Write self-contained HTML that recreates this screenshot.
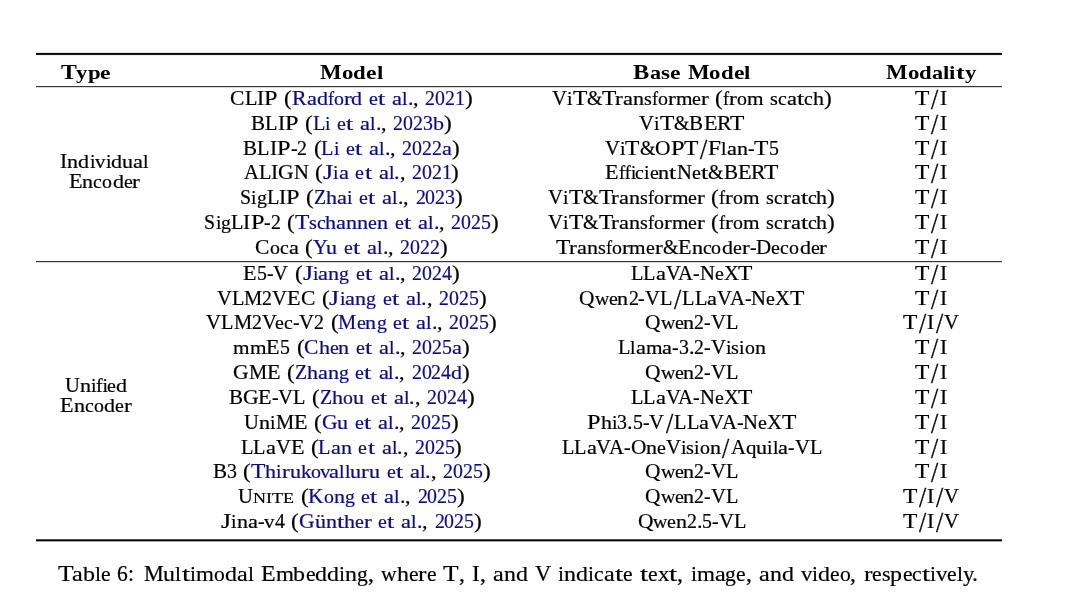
<!DOCTYPE html>
<html><head><meta charset="utf-8"><style>
html,body{margin:0;padding:0;background:#fff;}
body{width:1080px;height:593px;position:relative;overflow:hidden;will-change:transform;font-family:"Liberation Serif",serif;color:#000;}
i{position:absolute;font-style:normal;white-space:pre;font-size:20px;line-height:20px;transform-origin:0 0;-webkit-text-stroke:0.2px currentColor;}
.b{font-weight:bold;-webkit-text-stroke:0;}
.k{font-size:22.5px;line-height:22.5px;}
.c{color:#0c0c86;}
.sc{font-size:14.0px;line-height:14px;}
.rule{position:absolute;left:36px;width:966px;background:#000;}
</style></head><body>
<div class="rule" style="top:52px;height:1px;background:#e4e4e4"></div>
<div class="rule" style="top:53px;height:1px;background:#080808"></div>
<div class="rule" style="top:54px;height:1px;background:#181818"></div>
<div class="rule" style="top:55px;height:1px;background:#f0f0f0"></div>
<div class="rule" style="top:86px;height:1px;background:#383838"></div>
<div class="rule" style="top:87px;height:1px;background:#d8d8d8"></div>
<div class="rule" style="top:261px;height:1px;background:#383838"></div>
<div class="rule" style="top:262px;height:1px;background:#d8d8d8"></div>
<div class="rule" style="top:539px;height:1px;background:#555"></div>
<div class="rule" style="top:540px;height:1px;background:#000"></div>
<div class="rule" style="top:541px;height:1px;background:#a8a8a8"></div>
<i class="b" style="left:60.50px;top:62px;transform:scaleX(1.191)">T</i>
<i class="b" style="left:76.39px;top:62px;transform:translateY(0.85px) scaleX(1.141) scaleY(0.950)">y</i>
<i class="b" style="left:87.80px;top:62px;transform:translateY(0.85px) scaleX(1.141) scaleY(0.950)">p</i>
<i class="b" style="left:100.49px;top:62px;transform:translateY(0.85px) scaleX(1.181) scaleY(0.950)">e</i>
<i class="b" style="left:320.41px;top:62px;transform:scaleX(1.147)">M</i>
<i class="b" style="left:342.06px;top:62px;transform:translateY(0.85px) scaleX(1.142) scaleY(0.950)">o</i>
<i class="b" style="left:353.48px;top:62px;transform:translateY(0.85px) scaleX(1.141) scaleY(0.950)">d</i>
<i class="b" style="left:366.17px;top:62px;transform:translateY(0.85px) scaleX(1.181) scaleY(0.950)">e</i>
<i class="b" style="left:376.65px;top:62px;transform:translateY(0.85px) scaleX(1.142) scaleY(0.950)">l</i>
<i class="b" style="left:633.28px;top:62px;transform:scaleX(1.218)">B</i>
<i class="b" style="left:649.52px;top:62px;transform:translateY(0.85px) scaleX(1.111) scaleY(0.950)">a</i>
<i class="b" style="left:660.63px;top:62px;transform:translateY(0.85px) scaleX(1.157) scaleY(0.950)">s</i>
<i class="b" style="left:669.64px;top:62px;transform:translateY(0.85px) scaleX(1.181) scaleY(0.950)">e</i>
<i class="b" style="left:687.74px;top:62px;transform:scaleX(1.147)">M</i>
<i class="b" style="left:709.39px;top:62px;transform:translateY(0.85px) scaleX(1.142) scaleY(0.950)">o</i>
<i class="b" style="left:720.81px;top:62px;transform:translateY(0.85px) scaleX(1.141) scaleY(0.950)">d</i>
<i class="b" style="left:733.50px;top:62px;transform:translateY(0.85px) scaleX(1.181) scaleY(0.950)">e</i>
<i class="b" style="left:743.98px;top:62px;transform:translateY(0.85px) scaleX(1.142) scaleY(0.950)">l</i>
<i class="b" style="left:886.08px;top:62px;transform:scaleX(1.147)">M</i>
<i class="b" style="left:907.73px;top:62px;transform:translateY(0.85px) scaleX(1.142) scaleY(0.950)">o</i>
<i class="b" style="left:919.15px;top:62px;transform:translateY(0.85px) scaleX(1.141) scaleY(0.950)">d</i>
<i class="b" style="left:931.84px;top:62px;transform:translateY(0.85px) scaleX(1.111) scaleY(0.950)">a</i>
<i class="b" style="left:942.94px;top:62px;transform:translateY(0.85px) scaleX(1.142) scaleY(0.950)">l</i>
<i class="b" style="left:949.29px;top:62px;transform:translateY(0.85px) scaleX(1.142) scaleY(0.950)">i</i>
<i class="b" style="left:955.74px;top:62px;transform:translateY(0.85px) scaleX(1.300) scaleY(0.950)">t</i>
<i class="b" style="left:964.51px;top:62px;transform:translateY(0.85px) scaleX(1.141) scaleY(0.950)">y</i>
<i style="left:230.29px;top:88px;transform:scaleX(1.075)">C</i>
<i style="left:244.64px;top:88px;transform:scaleX(1.016)">L</i>
<i style="left:257.05px;top:88px;transform:scaleX(1.077)">I</i>
<i style="left:264.22px;top:88px;transform:scaleX(1.215)">P</i>
<i style="left:284.36px;top:88px;transform:scaleX(1.160)">(</i>
<i class="c" style="left:292.08px;top:88px;transform:scaleX(1.096)">R</i>
<i class="c" style="left:306.70px;top:88px;transform:translateY(0.85px) scaleX(1.119) scaleY(0.950)">a</i>
<i class="c" style="left:316.63px;top:88px;transform:translateY(0.85px) scaleX(1.103) scaleY(0.950)">d</i>
<i class="c" style="left:327.66px;top:88px;transform:translateY(0.85px) scaleX(0.911) scaleY(0.950)">f</i>
<i class="c" style="left:333.73px;top:88px;transform:translateY(0.85px) scaleX(0.993) scaleY(0.950)">o</i>
<i class="c" style="left:343.66px;top:88px;transform:translateY(0.85px) scaleX(1.168) scaleY(0.950)">r</i>
<i class="c" style="left:351.44px;top:88px;transform:translateY(0.85px) scaleX(1.103) scaleY(0.950)">d</i>
<i class="c" style="left:369.09px;top:88px;transform:translateY(0.85px) scaleX(0.994) scaleY(0.950)">e</i>
<i class="c" style="left:378.17px;top:88px;transform:translateY(0.85px) scaleX(1.300) scaleY(0.950)">t</i>
<i class="c" style="left:392.26px;top:88px;transform:translateY(0.85px) scaleX(1.119) scaleY(0.950)">a</i>
<i class="c" style="left:402.19px;top:88px;transform:translateY(0.85px) scaleX(0.993) scaleY(0.950)">l</i>
<i class="c" style="left:407.71px;top:88px;transform:scaleX(1.103)">.</i>
<i style="left:413.23px;top:88px;transform:scaleX(1.103)">,</i>
<i class="c" style="left:425.36px;top:88px;transform:scaleX(0.993)">2</i>
<i class="c" style="left:435.29px;top:88px;transform:scaleX(0.993)">0</i>
<i class="c" style="left:445.22px;top:88px;transform:scaleX(0.993)">2</i>
<i class="c" style="left:455.15px;top:88px;transform:scaleX(0.993)">1</i>
<i style="left:465.08px;top:88px;transform:scaleX(1.160)">)</i>
<i style="left:552.28px;top:88px;transform:scaleX(1.031)">V</i>
<i style="left:567.18px;top:88px;transform:translateY(0.85px) scaleX(0.993) scaleY(0.950)">i</i>
<i style="left:572.69px;top:88px;transform:scaleX(1.174)">T</i>
<i style="left:587.04px;top:88px;transform:scaleX(0.993)">&amp;</i>
<i style="left:602.49px;top:88px;transform:scaleX(1.174)">T</i>
<i style="left:615.17px;top:88px;transform:translateY(0.85px) scaleX(1.168) scaleY(0.950)">r</i>
<i style="left:622.95px;top:88px;transform:translateY(0.85px) scaleX(1.119) scaleY(0.950)">a</i>
<i style="left:632.88px;top:88px;transform:translateY(0.85px) scaleX(1.103) scaleY(0.950)">n</i>
<i style="left:643.92px;top:88px;transform:translateY(0.85px) scaleX(1.006) scaleY(0.950)">s</i>
<i style="left:651.75px;top:88px;transform:translateY(0.85px) scaleX(0.911) scaleY(0.950)">f</i>
<i style="left:657.82px;top:88px;transform:translateY(0.85px) scaleX(0.993) scaleY(0.950)">o</i>
<i style="left:667.75px;top:88px;transform:translateY(0.85px) scaleX(1.168) scaleY(0.950)">r</i>
<i style="left:675.53px;top:88px;transform:translateY(0.85px) scaleX(1.064) scaleY(0.950)">m</i>
<i style="left:692.08px;top:88px;transform:translateY(0.85px) scaleX(0.994) scaleY(0.950)">e</i>
<i style="left:700.90px;top:88px;transform:translateY(0.85px) scaleX(1.168) scaleY(0.950)">r</i>
<i style="left:715.30px;top:88px;transform:scaleX(1.160)">(</i>
<i style="left:723.02px;top:88px;transform:translateY(0.85px) scaleX(0.911) scaleY(0.950)">f</i>
<i style="left:729.09px;top:88px;transform:translateY(0.85px) scaleX(1.168) scaleY(0.950)">r</i>
<i style="left:736.87px;top:88px;transform:translateY(0.85px) scaleX(0.993) scaleY(0.950)">o</i>
<i style="left:746.80px;top:88px;transform:translateY(0.85px) scaleX(1.064) scaleY(0.950)">m</i>
<i style="left:769.97px;top:88px;transform:translateY(0.85px) scaleX(1.006) scaleY(0.950)">s</i>
<i style="left:777.81px;top:88px;transform:translateY(0.85px) scaleX(0.994) scaleY(0.950)">c</i>
<i style="left:786.63px;top:88px;transform:translateY(0.85px) scaleX(1.119) scaleY(0.950)">a</i>
<i style="left:796.81px;top:88px;transform:translateY(0.85px) scaleX(1.300) scaleY(0.950)">t</i>
<i style="left:804.29px;top:88px;transform:translateY(0.85px) scaleX(0.994) scaleY(0.950)">c</i>
<i style="left:812.56px;top:88px;transform:translateY(0.85px) scaleX(1.103) scaleY(0.950)">h</i>
<i style="left:823.59px;top:88px;transform:scaleX(1.160)">)</i>
<i style="left:915.28px;top:88px;transform:scaleX(1.174)">T</i>
<i style="left:930.97px;top:88px;transform:translateY(-3.73px) scaleX(1.300) scaleY(1.455)">/</i>
<i style="left:939.55px;top:88px;transform:scaleX(1.077)">I</i>
<i style="left:251.15px;top:113px;transform:scaleX(1.055)">B</i>
<i style="left:265.21px;top:113px;transform:scaleX(1.016)">L</i>
<i style="left:277.63px;top:113px;transform:scaleX(1.077)">I</i>
<i style="left:284.80px;top:113px;transform:scaleX(1.215)">P</i>
<i style="left:304.93px;top:113px;transform:scaleX(1.160)">(</i>
<i class="c" style="left:312.66px;top:113px;transform:scaleX(1.016)">L</i>
<i class="c" style="left:325.07px;top:113px;transform:translateY(0.85px) scaleX(0.993) scaleY(0.950)">i</i>
<i class="c" style="left:337.21px;top:113px;transform:translateY(0.85px) scaleX(0.994) scaleY(0.950)">e</i>
<i class="c" style="left:346.28px;top:113px;transform:translateY(0.85px) scaleX(1.300) scaleY(0.950)">t</i>
<i class="c" style="left:360.38px;top:113px;transform:translateY(0.85px) scaleX(1.119) scaleY(0.950)">a</i>
<i class="c" style="left:370.31px;top:113px;transform:translateY(0.85px) scaleX(0.993) scaleY(0.950)">l</i>
<i class="c" style="left:375.82px;top:113px;transform:scaleX(1.103)">.</i>
<i style="left:381.34px;top:113px;transform:scaleX(1.103)">,</i>
<i class="c" style="left:393.48px;top:113px;transform:scaleX(0.993)">2</i>
<i class="c" style="left:403.41px;top:113px;transform:scaleX(0.993)">0</i>
<i class="c" style="left:413.34px;top:113px;transform:scaleX(0.993)">2</i>
<i class="c" style="left:423.27px;top:113px;transform:scaleX(0.993)">3</i>
<i class="c" style="left:433.20px;top:113px;transform:translateY(0.85px) scaleX(1.103) scaleY(0.950)">b</i>
<i style="left:444.23px;top:113px;transform:scaleX(1.160)">)</i>
<i style="left:639.25px;top:113px;transform:scaleX(1.031)">V</i>
<i style="left:654.15px;top:113px;transform:translateY(0.85px) scaleX(0.993) scaleY(0.950)">i</i>
<i style="left:659.67px;top:113px;transform:scaleX(1.174)">T</i>
<i style="left:674.01px;top:113px;transform:scaleX(0.993)">&amp;</i>
<i style="left:689.46px;top:113px;transform:scaleX(1.055)">B</i>
<i style="left:703.52px;top:113px;transform:scaleX(1.106)">E</i>
<i style="left:717.04px;top:113px;transform:scaleX(1.096)">R</i>
<i style="left:730.00px;top:113px;transform:scaleX(1.174)">T</i>
<i style="left:915.28px;top:113px;transform:scaleX(1.174)">T</i>
<i style="left:930.97px;top:113px;transform:translateY(-3.73px) scaleX(1.300) scaleY(1.455)">/</i>
<i style="left:939.55px;top:113px;transform:scaleX(1.077)">I</i>
<i style="left:243.42px;top:138px;transform:scaleX(1.055)">B</i>
<i style="left:257.49px;top:138px;transform:scaleX(1.016)">L</i>
<i style="left:269.90px;top:138px;transform:scaleX(1.077)">I</i>
<i style="left:277.07px;top:138px;transform:scaleX(1.215)">P</i>
<i style="left:290.59px;top:138px;transform:scaleX(0.994)">-</i>
<i style="left:297.21px;top:138px;transform:scaleX(0.993)">2</i>
<i style="left:313.76px;top:138px;transform:scaleX(1.160)">(</i>
<i class="c" style="left:321.48px;top:138px;transform:scaleX(1.016)">L</i>
<i class="c" style="left:333.90px;top:138px;transform:translateY(0.85px) scaleX(0.993) scaleY(0.950)">i</i>
<i class="c" style="left:346.03px;top:138px;transform:translateY(0.85px) scaleX(0.994) scaleY(0.950)">e</i>
<i class="c" style="left:355.11px;top:138px;transform:translateY(0.85px) scaleX(1.300) scaleY(0.950)">t</i>
<i class="c" style="left:369.20px;top:138px;transform:translateY(0.85px) scaleX(1.119) scaleY(0.950)">a</i>
<i class="c" style="left:379.13px;top:138px;transform:translateY(0.85px) scaleX(0.993) scaleY(0.950)">l</i>
<i class="c" style="left:384.65px;top:138px;transform:scaleX(1.103)">.</i>
<i style="left:390.17px;top:138px;transform:scaleX(1.103)">,</i>
<i class="c" style="left:402.30px;top:138px;transform:scaleX(0.993)">2</i>
<i class="c" style="left:412.23px;top:138px;transform:scaleX(0.993)">0</i>
<i class="c" style="left:422.16px;top:138px;transform:scaleX(0.993)">2</i>
<i class="c" style="left:432.09px;top:138px;transform:scaleX(0.993)">2</i>
<i class="c" style="left:442.02px;top:138px;transform:translateY(0.85px) scaleX(1.119) scaleY(0.950)">a</i>
<i style="left:451.95px;top:138px;transform:scaleX(1.160)">)</i>
<i style="left:604.91px;top:138px;transform:scaleX(1.031)">V</i>
<i style="left:619.81px;top:138px;transform:translateY(0.85px) scaleX(0.993) scaleY(0.950)">i</i>
<i style="left:625.32px;top:138px;transform:scaleX(1.174)">T</i>
<i style="left:639.67px;top:138px;transform:scaleX(0.993)">&amp;</i>
<i style="left:655.11px;top:138px;transform:scaleX(1.069)">O</i>
<i style="left:670.56px;top:138px;transform:scaleX(1.215)">P</i>
<i style="left:684.08px;top:138px;transform:scaleX(1.174)">T</i>
<i style="left:699.77px;top:138px;transform:translateY(-3.73px) scaleX(1.300) scaleY(1.455)">/</i>
<i style="left:708.35px;top:138px;transform:scaleX(1.166)">F</i>
<i style="left:721.31px;top:138px;transform:translateY(0.85px) scaleX(0.993) scaleY(0.950)">l</i>
<i style="left:726.83px;top:138px;transform:translateY(0.85px) scaleX(1.119) scaleY(0.950)">a</i>
<i style="left:736.76px;top:138px;transform:translateY(0.85px) scaleX(1.103) scaleY(0.950)">n</i>
<i style="left:747.79px;top:138px;transform:scaleX(0.994)">-</i>
<i style="left:754.41px;top:138px;transform:scaleX(1.174)">T</i>
<i style="left:768.76px;top:138px;transform:scaleX(0.993)">5</i>
<i style="left:915.28px;top:138px;transform:scaleX(1.174)">T</i>
<i style="left:930.97px;top:138px;transform:translateY(-3.73px) scaleX(1.300) scaleY(1.455)">/</i>
<i style="left:939.55px;top:138px;transform:scaleX(1.077)">I</i>
<i style="left:243.91px;top:162px;transform:scaleX(1.031)">A</i>
<i style="left:258.80px;top:162px;transform:scaleX(1.016)">L</i>
<i style="left:271.21px;top:162px;transform:scaleX(1.077)">I</i>
<i style="left:278.39px;top:162px;transform:scaleX(1.079)">G</i>
<i style="left:293.97px;top:162px;transform:scaleX(1.031)">N</i>
<i style="left:315.48px;top:162px;transform:scaleX(1.160)">(</i>
<i class="c" style="left:323.25px;top:162px;transform:scaleX(1.300)">J</i>
<i class="c" style="left:333.41px;top:162px;transform:translateY(0.85px) scaleX(0.993) scaleY(0.950)">i</i>
<i class="c" style="left:338.93px;top:162px;transform:translateY(0.85px) scaleX(1.119) scaleY(0.950)">a</i>
<i class="c" style="left:355.48px;top:162px;transform:translateY(0.85px) scaleX(0.994) scaleY(0.950)">e</i>
<i class="c" style="left:364.56px;top:162px;transform:translateY(0.85px) scaleX(1.300) scaleY(0.950)">t</i>
<i class="c" style="left:378.65px;top:162px;transform:translateY(0.85px) scaleX(1.119) scaleY(0.950)">a</i>
<i class="c" style="left:388.58px;top:162px;transform:translateY(0.85px) scaleX(0.993) scaleY(0.950)">l</i>
<i class="c" style="left:394.10px;top:162px;transform:scaleX(1.103)">.</i>
<i style="left:399.61px;top:162px;transform:scaleX(1.103)">,</i>
<i class="c" style="left:411.75px;top:162px;transform:scaleX(0.993)">2</i>
<i class="c" style="left:421.68px;top:162px;transform:scaleX(0.993)">0</i>
<i class="c" style="left:431.61px;top:162px;transform:scaleX(0.993)">2</i>
<i class="c" style="left:441.54px;top:162px;transform:scaleX(0.993)">1</i>
<i style="left:451.47px;top:162px;transform:scaleX(1.160)">)</i>
<i style="left:605.19px;top:162px;transform:scaleX(1.106)">E</i>
<i style="left:618.70px;top:162px;transform:translateY(0.85px) scaleX(0.931) scaleY(0.950)">ffi</i>
<i style="left:635.25px;top:162px;transform:translateY(0.85px) scaleX(0.994) scaleY(0.950)">c</i>
<i style="left:644.08px;top:162px;transform:translateY(0.85px) scaleX(0.993) scaleY(0.950)">i</i>
<i style="left:649.60px;top:162px;transform:translateY(0.85px) scaleX(0.994) scaleY(0.950)">e</i>
<i style="left:658.42px;top:162px;transform:translateY(0.85px) scaleX(1.103) scaleY(0.950)">n</i>
<i style="left:669.16px;top:162px;transform:translateY(0.85px) scaleX(1.300) scaleY(0.950)">t</i>
<i style="left:676.63px;top:162px;transform:scaleX(1.031)">N</i>
<i style="left:691.52px;top:162px;transform:translateY(0.85px) scaleX(0.994) scaleY(0.950)">e</i>
<i style="left:700.60px;top:162px;transform:translateY(0.85px) scaleX(1.300) scaleY(0.950)">t</i>
<i style="left:708.07px;top:162px;transform:scaleX(0.993)">&amp;</i>
<i style="left:723.52px;top:162px;transform:scaleX(1.055)">B</i>
<i style="left:737.59px;top:162px;transform:scaleX(1.106)">E</i>
<i style="left:751.10px;top:162px;transform:scaleX(1.096)">R</i>
<i style="left:764.07px;top:162px;transform:scaleX(1.174)">T</i>
<i style="left:915.28px;top:162px;transform:scaleX(1.174)">T</i>
<i style="left:930.97px;top:162px;transform:translateY(-3.73px) scaleX(1.300) scaleY(1.455)">/</i>
<i style="left:939.55px;top:162px;transform:scaleX(1.077)">I</i>
<i style="left:240.11px;top:187px;transform:scaleX(0.992)">S</i>
<i style="left:251.15px;top:187px;transform:translateY(0.85px) scaleX(0.993) scaleY(0.950)">i</i>
<i style="left:256.66px;top:187px;transform:translateY(0.85px) scaleX(0.993) scaleY(0.950)">g</i>
<i style="left:266.59px;top:187px;transform:scaleX(1.016)">L</i>
<i style="left:279.01px;top:187px;transform:scaleX(1.077)">I</i>
<i style="left:286.18px;top:187px;transform:scaleX(1.215)">P</i>
<i style="left:306.31px;top:187px;transform:scaleX(1.160)">(</i>
<i class="c" style="left:314.04px;top:187px;transform:scaleX(0.993)">Z</i>
<i class="c" style="left:326.17px;top:187px;transform:translateY(0.85px) scaleX(1.103) scaleY(0.950)">h</i>
<i class="c" style="left:337.21px;top:187px;transform:translateY(0.85px) scaleX(1.119) scaleY(0.950)">a</i>
<i class="c" style="left:347.14px;top:187px;transform:translateY(0.85px) scaleX(0.993) scaleY(0.950)">i</i>
<i class="c" style="left:359.27px;top:187px;transform:translateY(0.85px) scaleX(0.994) scaleY(0.950)">e</i>
<i class="c" style="left:368.35px;top:187px;transform:translateY(0.85px) scaleX(1.300) scaleY(0.950)">t</i>
<i class="c" style="left:382.44px;top:187px;transform:translateY(0.85px) scaleX(1.119) scaleY(0.950)">a</i>
<i class="c" style="left:392.37px;top:187px;transform:translateY(0.85px) scaleX(0.993) scaleY(0.950)">l</i>
<i class="c" style="left:397.89px;top:187px;transform:scaleX(1.103)">.</i>
<i style="left:403.41px;top:187px;transform:scaleX(1.103)">,</i>
<i class="c" style="left:415.54px;top:187px;transform:scaleX(0.993)">2</i>
<i class="c" style="left:425.47px;top:187px;transform:scaleX(0.993)">0</i>
<i class="c" style="left:435.40px;top:187px;transform:scaleX(0.993)">2</i>
<i class="c" style="left:445.33px;top:187px;transform:scaleX(0.993)">3</i>
<i style="left:455.26px;top:187px;transform:scaleX(1.160)">)</i>
<i style="left:548.39px;top:187px;transform:scaleX(1.031)">V</i>
<i style="left:563.29px;top:187px;transform:translateY(0.85px) scaleX(0.993) scaleY(0.950)">i</i>
<i style="left:568.81px;top:187px;transform:scaleX(1.174)">T</i>
<i style="left:583.15px;top:187px;transform:scaleX(0.993)">&amp;</i>
<i style="left:598.60px;top:187px;transform:scaleX(1.174)">T</i>
<i style="left:611.28px;top:187px;transform:translateY(0.85px) scaleX(1.168) scaleY(0.950)">r</i>
<i style="left:619.06px;top:187px;transform:translateY(0.85px) scaleX(1.119) scaleY(0.950)">a</i>
<i style="left:628.99px;top:187px;transform:translateY(0.85px) scaleX(1.103) scaleY(0.950)">n</i>
<i style="left:640.03px;top:187px;transform:translateY(0.85px) scaleX(1.006) scaleY(0.950)">s</i>
<i style="left:647.86px;top:187px;transform:translateY(0.85px) scaleX(0.911) scaleY(0.950)">f</i>
<i style="left:653.93px;top:187px;transform:translateY(0.85px) scaleX(0.993) scaleY(0.950)">o</i>
<i style="left:663.86px;top:187px;transform:translateY(0.85px) scaleX(1.168) scaleY(0.950)">r</i>
<i style="left:671.64px;top:187px;transform:translateY(0.85px) scaleX(1.064) scaleY(0.950)">m</i>
<i style="left:688.19px;top:187px;transform:translateY(0.85px) scaleX(0.994) scaleY(0.950)">e</i>
<i style="left:697.01px;top:187px;transform:translateY(0.85px) scaleX(1.168) scaleY(0.950)">r</i>
<i style="left:711.41px;top:187px;transform:scaleX(1.160)">(</i>
<i style="left:719.14px;top:187px;transform:translateY(0.85px) scaleX(0.911) scaleY(0.950)">f</i>
<i style="left:725.20px;top:187px;transform:translateY(0.85px) scaleX(1.168) scaleY(0.950)">r</i>
<i style="left:732.98px;top:187px;transform:translateY(0.85px) scaleX(0.993) scaleY(0.950)">o</i>
<i style="left:742.91px;top:187px;transform:translateY(0.85px) scaleX(1.064) scaleY(0.950)">m</i>
<i style="left:766.08px;top:187px;transform:translateY(0.85px) scaleX(1.006) scaleY(0.950)">s</i>
<i style="left:773.92px;top:187px;transform:translateY(0.85px) scaleX(0.994) scaleY(0.950)">c</i>
<i style="left:782.74px;top:187px;transform:translateY(0.85px) scaleX(1.168) scaleY(0.950)">r</i>
<i style="left:790.52px;top:187px;transform:translateY(0.85px) scaleX(1.119) scaleY(0.950)">a</i>
<i style="left:800.70px;top:187px;transform:translateY(0.85px) scaleX(1.300) scaleY(0.950)">t</i>
<i style="left:808.17px;top:187px;transform:translateY(0.85px) scaleX(0.994) scaleY(0.950)">c</i>
<i style="left:816.45px;top:187px;transform:translateY(0.85px) scaleX(1.103) scaleY(0.950)">h</i>
<i style="left:827.48px;top:187px;transform:scaleX(1.160)">)</i>
<i style="left:915.28px;top:187px;transform:scaleX(1.174)">T</i>
<i style="left:930.97px;top:187px;transform:translateY(-3.73px) scaleX(1.300) scaleY(1.455)">/</i>
<i style="left:939.55px;top:187px;transform:scaleX(1.077)">I</i>
<i style="left:204.48px;top:212px;transform:scaleX(0.992)">S</i>
<i style="left:215.51px;top:212px;transform:translateY(0.85px) scaleX(0.993) scaleY(0.950)">i</i>
<i style="left:221.03px;top:212px;transform:translateY(0.85px) scaleX(0.993) scaleY(0.950)">g</i>
<i style="left:230.96px;top:212px;transform:scaleX(1.016)">L</i>
<i style="left:243.37px;top:212px;transform:scaleX(1.077)">I</i>
<i style="left:250.54px;top:212px;transform:scaleX(1.215)">P</i>
<i style="left:264.06px;top:212px;transform:scaleX(0.994)">-</i>
<i style="left:270.68px;top:212px;transform:scaleX(0.993)">2</i>
<i style="left:287.23px;top:212px;transform:scaleX(1.160)">(</i>
<i class="c" style="left:294.95px;top:212px;transform:scaleX(1.174)">T</i>
<i class="c" style="left:309.29px;top:212px;transform:translateY(0.85px) scaleX(1.006) scaleY(0.950)">s</i>
<i class="c" style="left:317.13px;top:212px;transform:translateY(0.85px) scaleX(0.994) scaleY(0.950)">c</i>
<i class="c" style="left:325.40px;top:212px;transform:translateY(0.85px) scaleX(1.103) scaleY(0.950)">h</i>
<i class="c" style="left:336.43px;top:212px;transform:translateY(0.85px) scaleX(1.119) scaleY(0.950)">a</i>
<i class="c" style="left:346.36px;top:212px;transform:translateY(0.85px) scaleX(1.103) scaleY(0.950)">n</i>
<i class="c" style="left:357.40px;top:212px;transform:translateY(0.85px) scaleX(1.103) scaleY(0.950)">n</i>
<i class="c" style="left:368.43px;top:212px;transform:translateY(0.85px) scaleX(0.994) scaleY(0.950)">e</i>
<i class="c" style="left:377.26px;top:212px;transform:translateY(0.85px) scaleX(1.103) scaleY(0.950)">n</i>
<i class="c" style="left:394.91px;top:212px;transform:translateY(0.85px) scaleX(0.994) scaleY(0.950)">e</i>
<i class="c" style="left:403.99px;top:212px;transform:translateY(0.85px) scaleX(1.300) scaleY(0.950)">t</i>
<i class="c" style="left:418.08px;top:212px;transform:translateY(0.85px) scaleX(1.119) scaleY(0.950)">a</i>
<i class="c" style="left:428.01px;top:212px;transform:translateY(0.85px) scaleX(0.993) scaleY(0.950)">l</i>
<i class="c" style="left:433.53px;top:212px;transform:scaleX(1.103)">.</i>
<i style="left:439.04px;top:212px;transform:scaleX(1.103)">,</i>
<i class="c" style="left:451.18px;top:212px;transform:scaleX(0.993)">2</i>
<i class="c" style="left:461.11px;top:212px;transform:scaleX(0.993)">0</i>
<i class="c" style="left:471.04px;top:212px;transform:scaleX(0.993)">2</i>
<i class="c" style="left:480.97px;top:212px;transform:scaleX(0.993)">5</i>
<i style="left:490.90px;top:212px;transform:scaleX(1.160)">)</i>
<i style="left:548.39px;top:212px;transform:scaleX(1.031)">V</i>
<i style="left:563.29px;top:212px;transform:translateY(0.85px) scaleX(0.993) scaleY(0.950)">i</i>
<i style="left:568.81px;top:212px;transform:scaleX(1.174)">T</i>
<i style="left:583.15px;top:212px;transform:scaleX(0.993)">&amp;</i>
<i style="left:598.60px;top:212px;transform:scaleX(1.174)">T</i>
<i style="left:611.28px;top:212px;transform:translateY(0.85px) scaleX(1.168) scaleY(0.950)">r</i>
<i style="left:619.06px;top:212px;transform:translateY(0.85px) scaleX(1.119) scaleY(0.950)">a</i>
<i style="left:628.99px;top:212px;transform:translateY(0.85px) scaleX(1.103) scaleY(0.950)">n</i>
<i style="left:640.03px;top:212px;transform:translateY(0.85px) scaleX(1.006) scaleY(0.950)">s</i>
<i style="left:647.86px;top:212px;transform:translateY(0.85px) scaleX(0.911) scaleY(0.950)">f</i>
<i style="left:653.93px;top:212px;transform:translateY(0.85px) scaleX(0.993) scaleY(0.950)">o</i>
<i style="left:663.86px;top:212px;transform:translateY(0.85px) scaleX(1.168) scaleY(0.950)">r</i>
<i style="left:671.64px;top:212px;transform:translateY(0.85px) scaleX(1.064) scaleY(0.950)">m</i>
<i style="left:688.19px;top:212px;transform:translateY(0.85px) scaleX(0.994) scaleY(0.950)">e</i>
<i style="left:697.01px;top:212px;transform:translateY(0.85px) scaleX(1.168) scaleY(0.950)">r</i>
<i style="left:711.41px;top:212px;transform:scaleX(1.160)">(</i>
<i style="left:719.14px;top:212px;transform:translateY(0.85px) scaleX(0.911) scaleY(0.950)">f</i>
<i style="left:725.20px;top:212px;transform:translateY(0.85px) scaleX(1.168) scaleY(0.950)">r</i>
<i style="left:732.98px;top:212px;transform:translateY(0.85px) scaleX(0.993) scaleY(0.950)">o</i>
<i style="left:742.91px;top:212px;transform:translateY(0.85px) scaleX(1.064) scaleY(0.950)">m</i>
<i style="left:766.08px;top:212px;transform:translateY(0.85px) scaleX(1.006) scaleY(0.950)">s</i>
<i style="left:773.92px;top:212px;transform:translateY(0.85px) scaleX(0.994) scaleY(0.950)">c</i>
<i style="left:782.74px;top:212px;transform:translateY(0.85px) scaleX(1.168) scaleY(0.950)">r</i>
<i style="left:790.52px;top:212px;transform:translateY(0.85px) scaleX(1.119) scaleY(0.950)">a</i>
<i style="left:800.70px;top:212px;transform:translateY(0.85px) scaleX(1.300) scaleY(0.950)">t</i>
<i style="left:808.17px;top:212px;transform:translateY(0.85px) scaleX(0.994) scaleY(0.950)">c</i>
<i style="left:816.45px;top:212px;transform:translateY(0.85px) scaleX(1.103) scaleY(0.950)">h</i>
<i style="left:827.48px;top:212px;transform:scaleX(1.160)">)</i>
<i style="left:915.28px;top:212px;transform:scaleX(1.174)">T</i>
<i style="left:930.97px;top:212px;transform:translateY(-3.73px) scaleX(1.300) scaleY(1.455)">/</i>
<i style="left:939.55px;top:212px;transform:scaleX(1.077)">I</i>
<i style="left:255.28px;top:237px;transform:scaleX(1.075)">C</i>
<i style="left:269.63px;top:237px;transform:translateY(0.85px) scaleX(0.993) scaleY(0.950)">o</i>
<i style="left:280.11px;top:237px;transform:translateY(0.85px) scaleX(0.994) scaleY(0.950)">c</i>
<i style="left:288.94px;top:237px;transform:translateY(0.85px) scaleX(1.119) scaleY(0.950)">a</i>
<i style="left:305.49px;top:237px;transform:scaleX(1.160)">(</i>
<i class="c" style="left:313.21px;top:237px;transform:scaleX(1.031)">Y</i>
<i class="c" style="left:326.45px;top:237px;transform:translateY(0.85px) scaleX(1.103) scaleY(0.950)">u</i>
<i class="c" style="left:344.10px;top:237px;transform:translateY(0.85px) scaleX(0.994) scaleY(0.950)">e</i>
<i class="c" style="left:353.18px;top:237px;transform:translateY(0.85px) scaleX(1.300) scaleY(0.950)">t</i>
<i class="c" style="left:367.27px;top:237px;transform:translateY(0.85px) scaleX(1.119) scaleY(0.950)">a</i>
<i class="c" style="left:377.20px;top:237px;transform:translateY(0.85px) scaleX(0.993) scaleY(0.950)">l</i>
<i class="c" style="left:382.72px;top:237px;transform:scaleX(1.103)">.</i>
<i style="left:388.24px;top:237px;transform:scaleX(1.103)">,</i>
<i class="c" style="left:400.37px;top:237px;transform:scaleX(0.993)">2</i>
<i class="c" style="left:410.30px;top:237px;transform:scaleX(0.993)">0</i>
<i class="c" style="left:420.23px;top:237px;transform:scaleX(0.993)">2</i>
<i class="c" style="left:430.16px;top:237px;transform:scaleX(0.993)">2</i>
<i style="left:440.09px;top:237px;transform:scaleX(1.160)">)</i>
<i style="left:556.45px;top:237px;transform:scaleX(1.174)">T</i>
<i style="left:569.14px;top:237px;transform:translateY(0.85px) scaleX(1.168) scaleY(0.950)">r</i>
<i style="left:576.91px;top:237px;transform:translateY(0.85px) scaleX(1.119) scaleY(0.950)">a</i>
<i style="left:586.85px;top:237px;transform:translateY(0.85px) scaleX(1.103) scaleY(0.950)">n</i>
<i style="left:597.88px;top:237px;transform:translateY(0.85px) scaleX(1.006) scaleY(0.950)">s</i>
<i style="left:605.71px;top:237px;transform:translateY(0.85px) scaleX(0.911) scaleY(0.950)">f</i>
<i style="left:611.78px;top:237px;transform:translateY(0.85px) scaleX(0.993) scaleY(0.950)">o</i>
<i style="left:621.71px;top:237px;transform:translateY(0.85px) scaleX(1.168) scaleY(0.950)">r</i>
<i style="left:629.49px;top:237px;transform:translateY(0.85px) scaleX(1.064) scaleY(0.950)">m</i>
<i style="left:646.04px;top:237px;transform:translateY(0.85px) scaleX(0.994) scaleY(0.950)">e</i>
<i style="left:654.87px;top:237px;transform:translateY(0.85px) scaleX(1.168) scaleY(0.950)">r</i>
<i style="left:662.64px;top:237px;transform:scaleX(0.993)">&amp;</i>
<i style="left:678.09px;top:237px;transform:scaleX(1.106)">E</i>
<i style="left:691.61px;top:237px;transform:translateY(0.85px) scaleX(1.103) scaleY(0.950)">n</i>
<i style="left:702.64px;top:237px;transform:translateY(0.85px) scaleX(0.994) scaleY(0.950)">c</i>
<i style="left:711.47px;top:237px;transform:translateY(0.85px) scaleX(0.993) scaleY(0.950)">o</i>
<i style="left:721.95px;top:237px;transform:translateY(0.85px) scaleX(1.103) scaleY(0.950)">d</i>
<i style="left:732.98px;top:237px;transform:translateY(0.85px) scaleX(0.994) scaleY(0.950)">e</i>
<i style="left:741.81px;top:237px;transform:translateY(0.85px) scaleX(1.168) scaleY(0.950)">r</i>
<i style="left:749.59px;top:237px;transform:scaleX(0.994)">-</i>
<i style="left:756.21px;top:237px;transform:scaleX(1.050)">D</i>
<i style="left:771.38px;top:237px;transform:translateY(0.85px) scaleX(0.994) scaleY(0.950)">e</i>
<i style="left:780.20px;top:237px;transform:translateY(0.85px) scaleX(0.994) scaleY(0.950)">c</i>
<i style="left:789.03px;top:237px;transform:translateY(0.85px) scaleX(0.993) scaleY(0.950)">o</i>
<i style="left:799.51px;top:237px;transform:translateY(0.85px) scaleX(1.103) scaleY(0.950)">d</i>
<i style="left:810.55px;top:237px;transform:translateY(0.85px) scaleX(0.994) scaleY(0.950)">e</i>
<i style="left:819.37px;top:237px;transform:translateY(0.85px) scaleX(1.168) scaleY(0.950)">r</i>
<i style="left:915.28px;top:237px;transform:scaleX(1.174)">T</i>
<i style="left:930.97px;top:237px;transform:translateY(-3.73px) scaleX(1.300) scaleY(1.455)">/</i>
<i style="left:939.55px;top:237px;transform:scaleX(1.077)">I</i>
<i style="left:243.42px;top:263px;transform:scaleX(1.106)">E</i>
<i style="left:256.94px;top:263px;transform:scaleX(0.993)">5</i>
<i style="left:266.87px;top:263px;transform:scaleX(0.994)">-</i>
<i style="left:273.49px;top:263px;transform:scaleX(1.031)">V</i>
<i style="left:295.00px;top:263px;transform:scaleX(1.160)">(</i>
<i class="c" style="left:302.77px;top:263px;transform:scaleX(1.300)">J</i>
<i class="c" style="left:312.93px;top:263px;transform:translateY(0.85px) scaleX(0.993) scaleY(0.950)">i</i>
<i class="c" style="left:318.45px;top:263px;transform:translateY(0.85px) scaleX(1.119) scaleY(0.950)">a</i>
<i class="c" style="left:328.38px;top:263px;transform:translateY(0.85px) scaleX(1.103) scaleY(0.950)">n</i>
<i class="c" style="left:339.41px;top:263px;transform:translateY(0.85px) scaleX(0.993) scaleY(0.950)">g</i>
<i class="c" style="left:355.96px;top:263px;transform:translateY(0.85px) scaleX(0.994) scaleY(0.950)">e</i>
<i class="c" style="left:365.04px;top:263px;transform:translateY(0.85px) scaleX(1.300) scaleY(0.950)">t</i>
<i class="c" style="left:379.13px;top:263px;transform:translateY(0.85px) scaleX(1.119) scaleY(0.950)">a</i>
<i class="c" style="left:389.06px;top:263px;transform:translateY(0.85px) scaleX(0.993) scaleY(0.950)">l</i>
<i class="c" style="left:394.58px;top:263px;transform:scaleX(1.103)">.</i>
<i style="left:400.10px;top:263px;transform:scaleX(1.103)">,</i>
<i class="c" style="left:412.23px;top:263px;transform:scaleX(0.993)">2</i>
<i class="c" style="left:422.16px;top:263px;transform:scaleX(0.993)">0</i>
<i class="c" style="left:432.09px;top:263px;transform:scaleX(0.993)">2</i>
<i class="c" style="left:442.02px;top:263px;transform:scaleX(0.993)">4</i>
<i style="left:451.95px;top:263px;transform:scaleX(1.160)">)</i>
<i style="left:630.84px;top:263px;transform:scaleX(1.016)">L</i>
<i style="left:643.25px;top:263px;transform:scaleX(1.016)">L</i>
<i style="left:655.67px;top:263px;transform:translateY(0.85px) scaleX(1.119) scaleY(0.950)">a</i>
<i style="left:665.60px;top:263px;transform:scaleX(1.031)">V</i>
<i style="left:678.28px;top:263px;transform:scaleX(1.031)">A</i>
<i style="left:693.18px;top:263px;transform:scaleX(0.994)">-</i>
<i style="left:699.80px;top:263px;transform:scaleX(1.031)">N</i>
<i style="left:714.69px;top:263px;transform:translateY(0.85px) scaleX(0.994) scaleY(0.950)">e</i>
<i style="left:723.52px;top:263px;transform:scaleX(1.031)">X</i>
<i style="left:738.42px;top:263px;transform:scaleX(1.174)">T</i>
<i style="left:915.28px;top:263px;transform:scaleX(1.174)">T</i>
<i style="left:930.97px;top:263px;transform:translateY(-3.73px) scaleX(1.300) scaleY(1.455)">/</i>
<i style="left:939.55px;top:263px;transform:scaleX(1.077)">I</i>
<i style="left:216.81px;top:288px;transform:scaleX(1.031)">V</i>
<i style="left:231.70px;top:288px;transform:scaleX(1.016)">L</i>
<i style="left:244.11px;top:288px;transform:scaleX(1.024)">M</i>
<i style="left:262.32px;top:288px;transform:scaleX(0.993)">2</i>
<i style="left:272.25px;top:288px;transform:scaleX(1.031)">V</i>
<i style="left:287.14px;top:288px;transform:scaleX(1.106)">E</i>
<i style="left:300.66px;top:288px;transform:scaleX(1.075)">C</i>
<i style="left:321.62px;top:288px;transform:scaleX(1.160)">(</i>
<i class="c" style="left:329.39px;top:288px;transform:scaleX(1.300)">J</i>
<i class="c" style="left:339.55px;top:288px;transform:translateY(0.85px) scaleX(0.993) scaleY(0.950)">i</i>
<i class="c" style="left:345.07px;top:288px;transform:translateY(0.85px) scaleX(1.119) scaleY(0.950)">a</i>
<i class="c" style="left:355.00px;top:288px;transform:translateY(0.85px) scaleX(1.103) scaleY(0.950)">n</i>
<i class="c" style="left:366.03px;top:288px;transform:translateY(0.85px) scaleX(0.993) scaleY(0.950)">g</i>
<i class="c" style="left:382.58px;top:288px;transform:translateY(0.85px) scaleX(0.994) scaleY(0.950)">e</i>
<i class="c" style="left:391.66px;top:288px;transform:translateY(0.85px) scaleX(1.300) scaleY(0.950)">t</i>
<i class="c" style="left:405.75px;top:288px;transform:translateY(0.85px) scaleX(1.119) scaleY(0.950)">a</i>
<i class="c" style="left:415.68px;top:288px;transform:translateY(0.85px) scaleX(0.993) scaleY(0.950)">l</i>
<i class="c" style="left:421.20px;top:288px;transform:scaleX(1.103)">.</i>
<i style="left:426.71px;top:288px;transform:scaleX(1.103)">,</i>
<i class="c" style="left:438.85px;top:288px;transform:scaleX(0.993)">2</i>
<i class="c" style="left:448.78px;top:288px;transform:scaleX(0.993)">0</i>
<i class="c" style="left:458.71px;top:288px;transform:scaleX(0.993)">2</i>
<i class="c" style="left:468.64px;top:288px;transform:scaleX(0.993)">5</i>
<i style="left:478.57px;top:288px;transform:scaleX(1.160)">)</i>
<i style="left:579.40px;top:288px;transform:scaleX(1.069)">Q</i>
<i style="left:594.84px;top:288px;transform:translateY(0.85px) scaleX(0.993) scaleY(0.950)">w</i>
<i style="left:608.64px;top:288px;transform:translateY(0.85px) scaleX(0.994) scaleY(0.950)">e</i>
<i style="left:617.46px;top:288px;transform:translateY(0.85px) scaleX(1.103) scaleY(0.950)">n</i>
<i style="left:628.50px;top:288px;transform:scaleX(0.993)">2</i>
<i style="left:638.43px;top:288px;transform:scaleX(0.994)">-</i>
<i style="left:645.05px;top:288px;transform:scaleX(1.031)">V</i>
<i style="left:659.94px;top:288px;transform:scaleX(1.016)">L</i>
<i style="left:673.71px;top:288px;transform:translateY(-3.73px) scaleX(1.300) scaleY(1.455)">/</i>
<i style="left:682.28px;top:288px;transform:scaleX(1.016)">L</i>
<i style="left:694.70px;top:288px;transform:scaleX(1.016)">L</i>
<i style="left:707.11px;top:288px;transform:translateY(0.85px) scaleX(1.119) scaleY(0.950)">a</i>
<i style="left:717.04px;top:288px;transform:scaleX(1.031)">V</i>
<i style="left:729.73px;top:288px;transform:scaleX(1.031)">A</i>
<i style="left:744.62px;top:288px;transform:scaleX(0.994)">-</i>
<i style="left:751.24px;top:288px;transform:scaleX(1.031)">N</i>
<i style="left:766.14px;top:288px;transform:translateY(0.85px) scaleX(0.994) scaleY(0.950)">e</i>
<i style="left:774.96px;top:288px;transform:scaleX(1.031)">X</i>
<i style="left:789.86px;top:288px;transform:scaleX(1.174)">T</i>
<i style="left:915.28px;top:288px;transform:scaleX(1.174)">T</i>
<i style="left:930.97px;top:288px;transform:translateY(-3.73px) scaleX(1.300) scaleY(1.455)">/</i>
<i style="left:939.55px;top:288px;transform:scaleX(1.077)">I</i>
<i style="left:206.32px;top:312px;transform:scaleX(1.031)">V</i>
<i style="left:221.22px;top:312px;transform:scaleX(1.016)">L</i>
<i style="left:233.63px;top:312px;transform:scaleX(1.024)">M</i>
<i style="left:251.84px;top:312px;transform:scaleX(0.993)">2</i>
<i style="left:261.77px;top:312px;transform:scaleX(1.031)">V</i>
<i style="left:275.01px;top:312px;transform:translateY(0.85px) scaleX(0.994) scaleY(0.950)">e</i>
<i style="left:283.83px;top:312px;transform:translateY(0.85px) scaleX(0.994) scaleY(0.950)">c</i>
<i style="left:292.66px;top:312px;transform:scaleX(0.994)">-</i>
<i style="left:299.28px;top:312px;transform:scaleX(1.031)">V</i>
<i style="left:314.17px;top:312px;transform:scaleX(0.993)">2</i>
<i style="left:330.72px;top:312px;transform:scaleX(1.160)">(</i>
<i class="c" style="left:338.45px;top:312px;transform:scaleX(1.024)">M</i>
<i class="c" style="left:356.65px;top:312px;transform:translateY(0.85px) scaleX(0.994) scaleY(0.950)">e</i>
<i class="c" style="left:365.48px;top:312px;transform:translateY(0.85px) scaleX(1.103) scaleY(0.950)">n</i>
<i class="c" style="left:376.51px;top:312px;transform:translateY(0.85px) scaleX(0.993) scaleY(0.950)">g</i>
<i class="c" style="left:393.06px;top:312px;transform:translateY(0.85px) scaleX(0.994) scaleY(0.950)">e</i>
<i class="c" style="left:402.14px;top:312px;transform:translateY(0.85px) scaleX(1.300) scaleY(0.950)">t</i>
<i class="c" style="left:416.23px;top:312px;transform:translateY(0.85px) scaleX(1.119) scaleY(0.950)">a</i>
<i class="c" style="left:426.16px;top:312px;transform:translateY(0.85px) scaleX(0.993) scaleY(0.950)">l</i>
<i class="c" style="left:431.68px;top:312px;transform:scaleX(1.103)">.</i>
<i style="left:437.20px;top:312px;transform:scaleX(1.103)">,</i>
<i class="c" style="left:449.33px;top:312px;transform:scaleX(0.993)">2</i>
<i class="c" style="left:459.26px;top:312px;transform:scaleX(0.993)">0</i>
<i class="c" style="left:469.19px;top:312px;transform:scaleX(0.993)">2</i>
<i class="c" style="left:479.12px;top:312px;transform:scaleX(0.993)">5</i>
<i style="left:489.05px;top:312px;transform:scaleX(1.160)">)</i>
<i style="left:645.32px;top:312px;transform:scaleX(1.069)">Q</i>
<i style="left:660.77px;top:312px;transform:translateY(0.85px) scaleX(0.993) scaleY(0.950)">w</i>
<i style="left:674.56px;top:312px;transform:translateY(0.85px) scaleX(0.994) scaleY(0.950)">e</i>
<i style="left:683.39px;top:312px;transform:translateY(0.85px) scaleX(1.103) scaleY(0.950)">n</i>
<i style="left:694.42px;top:312px;transform:scaleX(0.993)">2</i>
<i style="left:704.35px;top:312px;transform:scaleX(0.994)">-</i>
<i style="left:710.97px;top:312px;transform:scaleX(1.031)">V</i>
<i style="left:725.87px;top:312px;transform:scaleX(1.016)">L</i>
<i style="left:902.86px;top:312px;transform:scaleX(1.174)">T</i>
<i style="left:918.56px;top:312px;transform:translateY(-3.73px) scaleX(1.300) scaleY(1.455)">/</i>
<i style="left:927.14px;top:312px;transform:scaleX(1.077)">I</i>
<i style="left:935.66px;top:312px;transform:translateY(-3.73px) scaleX(1.300) scaleY(1.455)">/</i>
<i style="left:944.24px;top:312px;transform:scaleX(1.031)">V</i>
<i style="left:233.36px;top:337px;transform:translateY(0.85px) scaleX(1.064) scaleY(0.950)">m</i>
<i style="left:249.91px;top:337px;transform:translateY(0.85px) scaleX(1.064) scaleY(0.950)">m</i>
<i style="left:266.46px;top:337px;transform:scaleX(1.106)">E</i>
<i style="left:279.97px;top:337px;transform:scaleX(0.993)">5</i>
<i style="left:296.52px;top:337px;transform:scaleX(1.160)">(</i>
<i class="c" style="left:304.24px;top:337px;transform:scaleX(1.075)">C</i>
<i class="c" style="left:318.59px;top:337px;transform:translateY(0.85px) scaleX(1.103) scaleY(0.950)">h</i>
<i class="c" style="left:329.62px;top:337px;transform:translateY(0.85px) scaleX(0.994) scaleY(0.950)">e</i>
<i class="c" style="left:338.45px;top:337px;transform:translateY(0.85px) scaleX(1.103) scaleY(0.950)">n</i>
<i class="c" style="left:356.10px;top:337px;transform:translateY(0.85px) scaleX(0.994) scaleY(0.950)">e</i>
<i class="c" style="left:365.18px;top:337px;transform:translateY(0.85px) scaleX(1.300) scaleY(0.950)">t</i>
<i class="c" style="left:379.27px;top:337px;transform:translateY(0.85px) scaleX(1.119) scaleY(0.950)">a</i>
<i class="c" style="left:389.20px;top:337px;transform:translateY(0.85px) scaleX(0.993) scaleY(0.950)">l</i>
<i class="c" style="left:394.72px;top:337px;transform:scaleX(1.103)">.</i>
<i style="left:400.23px;top:337px;transform:scaleX(1.103)">,</i>
<i class="c" style="left:412.37px;top:337px;transform:scaleX(0.993)">2</i>
<i class="c" style="left:422.30px;top:337px;transform:scaleX(0.993)">0</i>
<i class="c" style="left:432.23px;top:337px;transform:scaleX(0.993)">2</i>
<i class="c" style="left:442.16px;top:337px;transform:scaleX(0.993)">5</i>
<i class="c" style="left:452.09px;top:337px;transform:translateY(0.85px) scaleX(1.119) scaleY(0.950)">a</i>
<i style="left:462.02px;top:337px;transform:scaleX(1.160)">)</i>
<i style="left:617.96px;top:337px;transform:scaleX(1.016)">L</i>
<i style="left:630.37px;top:337px;transform:translateY(0.85px) scaleX(0.993) scaleY(0.950)">l</i>
<i style="left:635.89px;top:337px;transform:translateY(0.85px) scaleX(1.119) scaleY(0.950)">a</i>
<i style="left:645.82px;top:337px;transform:translateY(0.85px) scaleX(1.064) scaleY(0.950)">m</i>
<i style="left:662.37px;top:337px;transform:translateY(0.85px) scaleX(1.119) scaleY(0.950)">a</i>
<i style="left:672.30px;top:337px;transform:scaleX(0.994)">-</i>
<i style="left:678.92px;top:337px;transform:scaleX(0.993)">3</i>
<i style="left:688.85px;top:337px;transform:scaleX(1.103)">.</i>
<i style="left:694.37px;top:337px;transform:scaleX(0.993)">2</i>
<i style="left:704.30px;top:337px;transform:scaleX(0.994)">-</i>
<i style="left:710.92px;top:337px;transform:scaleX(1.031)">V</i>
<i style="left:725.81px;top:337px;transform:translateY(0.85px) scaleX(0.993) scaleY(0.950)">i</i>
<i style="left:731.33px;top:337px;transform:translateY(0.85px) scaleX(1.006) scaleY(0.950)">s</i>
<i style="left:739.16px;top:337px;transform:translateY(0.85px) scaleX(0.993) scaleY(0.950)">i</i>
<i style="left:744.68px;top:337px;transform:translateY(0.85px) scaleX(0.993) scaleY(0.950)">o</i>
<i style="left:754.61px;top:337px;transform:translateY(0.85px) scaleX(1.103) scaleY(0.950)">n</i>
<i style="left:915.28px;top:337px;transform:scaleX(1.174)">T</i>
<i style="left:930.97px;top:337px;transform:translateY(-3.73px) scaleX(1.300) scaleY(1.455)">/</i>
<i style="left:939.55px;top:337px;transform:scaleX(1.077)">I</i>
<i style="left:233.01px;top:362px;transform:scaleX(1.079)">G</i>
<i style="left:248.59px;top:362px;transform:scaleX(1.024)">M</i>
<i style="left:266.80px;top:362px;transform:scaleX(1.106)">E</i>
<i style="left:286.94px;top:362px;transform:scaleX(1.160)">(</i>
<i class="c" style="left:294.66px;top:362px;transform:scaleX(0.993)">Z</i>
<i class="c" style="left:306.80px;top:362px;transform:translateY(0.85px) scaleX(1.103) scaleY(0.950)">h</i>
<i class="c" style="left:317.83px;top:362px;transform:translateY(0.85px) scaleX(1.119) scaleY(0.950)">a</i>
<i class="c" style="left:327.76px;top:362px;transform:translateY(0.85px) scaleX(1.103) scaleY(0.950)">n</i>
<i class="c" style="left:338.79px;top:362px;transform:translateY(0.85px) scaleX(0.993) scaleY(0.950)">g</i>
<i class="c" style="left:355.34px;top:362px;transform:translateY(0.85px) scaleX(0.994) scaleY(0.950)">e</i>
<i class="c" style="left:364.42px;top:362px;transform:translateY(0.85px) scaleX(1.300) scaleY(0.950)">t</i>
<i class="c" style="left:378.51px;top:362px;transform:translateY(0.85px) scaleX(1.119) scaleY(0.950)">a</i>
<i class="c" style="left:388.44px;top:362px;transform:translateY(0.85px) scaleX(0.993) scaleY(0.950)">l</i>
<i class="c" style="left:393.96px;top:362px;transform:scaleX(1.103)">.</i>
<i style="left:399.48px;top:362px;transform:scaleX(1.103)">,</i>
<i class="c" style="left:411.61px;top:362px;transform:scaleX(0.993)">2</i>
<i class="c" style="left:421.54px;top:362px;transform:scaleX(0.993)">0</i>
<i class="c" style="left:431.47px;top:362px;transform:scaleX(0.993)">2</i>
<i class="c" style="left:441.40px;top:362px;transform:scaleX(0.993)">4</i>
<i class="c" style="left:451.33px;top:362px;transform:translateY(0.85px) scaleX(1.103) scaleY(0.950)">d</i>
<i style="left:462.37px;top:362px;transform:scaleX(1.160)">)</i>
<i style="left:645.32px;top:362px;transform:scaleX(1.069)">Q</i>
<i style="left:660.77px;top:362px;transform:translateY(0.85px) scaleX(0.993) scaleY(0.950)">w</i>
<i style="left:674.56px;top:362px;transform:translateY(0.85px) scaleX(0.994) scaleY(0.950)">e</i>
<i style="left:683.39px;top:362px;transform:translateY(0.85px) scaleX(1.103) scaleY(0.950)">n</i>
<i style="left:694.42px;top:362px;transform:scaleX(0.993)">2</i>
<i style="left:704.35px;top:362px;transform:scaleX(0.994)">-</i>
<i style="left:710.97px;top:362px;transform:scaleX(1.031)">V</i>
<i style="left:725.87px;top:362px;transform:scaleX(1.016)">L</i>
<i style="left:915.28px;top:362px;transform:scaleX(1.174)">T</i>
<i style="left:930.97px;top:362px;transform:translateY(-3.73px) scaleX(1.300) scaleY(1.455)">/</i>
<i style="left:939.55px;top:362px;transform:scaleX(1.077)">I</i>
<i style="left:228.60px;top:387px;transform:scaleX(1.055)">B</i>
<i style="left:242.66px;top:387px;transform:scaleX(1.079)">G</i>
<i style="left:258.25px;top:387px;transform:scaleX(1.106)">E</i>
<i style="left:271.77px;top:387px;transform:scaleX(0.994)">-</i>
<i style="left:278.39px;top:387px;transform:scaleX(1.031)">V</i>
<i style="left:293.28px;top:387px;transform:scaleX(1.016)">L</i>
<i style="left:312.31px;top:387px;transform:scaleX(1.160)">(</i>
<i class="c" style="left:320.04px;top:387px;transform:scaleX(0.993)">Z</i>
<i class="c" style="left:332.17px;top:387px;transform:translateY(0.85px) scaleX(1.103) scaleY(0.950)">h</i>
<i class="c" style="left:343.21px;top:387px;transform:translateY(0.85px) scaleX(0.993) scaleY(0.950)">o</i>
<i class="c" style="left:353.14px;top:387px;transform:translateY(0.85px) scaleX(1.103) scaleY(0.950)">u</i>
<i class="c" style="left:370.79px;top:387px;transform:translateY(0.85px) scaleX(0.994) scaleY(0.950)">e</i>
<i class="c" style="left:379.87px;top:387px;transform:translateY(0.85px) scaleX(1.300) scaleY(0.950)">t</i>
<i class="c" style="left:393.96px;top:387px;transform:translateY(0.85px) scaleX(1.119) scaleY(0.950)">a</i>
<i class="c" style="left:403.89px;top:387px;transform:translateY(0.85px) scaleX(0.993) scaleY(0.950)">l</i>
<i class="c" style="left:409.41px;top:387px;transform:scaleX(1.103)">.</i>
<i style="left:414.92px;top:387px;transform:scaleX(1.103)">,</i>
<i class="c" style="left:427.06px;top:387px;transform:scaleX(0.993)">2</i>
<i class="c" style="left:436.99px;top:387px;transform:scaleX(0.993)">0</i>
<i class="c" style="left:446.92px;top:387px;transform:scaleX(0.993)">2</i>
<i class="c" style="left:456.85px;top:387px;transform:scaleX(0.993)">4</i>
<i style="left:466.78px;top:387px;transform:scaleX(1.160)">)</i>
<i style="left:630.84px;top:387px;transform:scaleX(1.016)">L</i>
<i style="left:643.25px;top:387px;transform:scaleX(1.016)">L</i>
<i style="left:655.67px;top:387px;transform:translateY(0.85px) scaleX(1.119) scaleY(0.950)">a</i>
<i style="left:665.60px;top:387px;transform:scaleX(1.031)">V</i>
<i style="left:678.28px;top:387px;transform:scaleX(1.031)">A</i>
<i style="left:693.18px;top:387px;transform:scaleX(0.994)">-</i>
<i style="left:699.80px;top:387px;transform:scaleX(1.031)">N</i>
<i style="left:714.69px;top:387px;transform:translateY(0.85px) scaleX(0.994) scaleY(0.950)">e</i>
<i style="left:723.52px;top:387px;transform:scaleX(1.031)">X</i>
<i style="left:738.42px;top:387px;transform:scaleX(1.174)">T</i>
<i style="left:915.28px;top:387px;transform:scaleX(1.174)">T</i>
<i style="left:930.97px;top:387px;transform:translateY(-3.73px) scaleX(1.300) scaleY(1.455)">/</i>
<i style="left:939.55px;top:387px;transform:scaleX(1.077)">I</i>
<i style="left:244.32px;top:412px;transform:scaleX(1.031)">U</i>
<i style="left:259.21px;top:412px;transform:translateY(0.85px) scaleX(1.103) scaleY(0.950)">n</i>
<i style="left:270.25px;top:412px;transform:translateY(0.85px) scaleX(0.993) scaleY(0.950)">i</i>
<i style="left:275.76px;top:412px;transform:scaleX(1.024)">M</i>
<i style="left:293.97px;top:412px;transform:scaleX(1.106)">E</i>
<i style="left:314.11px;top:412px;transform:scaleX(1.160)">(</i>
<i class="c" style="left:321.83px;top:412px;transform:scaleX(1.079)">G</i>
<i class="c" style="left:337.41px;top:412px;transform:translateY(0.85px) scaleX(1.103) scaleY(0.950)">u</i>
<i class="c" style="left:355.07px;top:412px;transform:translateY(0.85px) scaleX(0.994) scaleY(0.950)">e</i>
<i class="c" style="left:364.14px;top:412px;transform:translateY(0.85px) scaleX(1.300) scaleY(0.950)">t</i>
<i class="c" style="left:378.24px;top:412px;transform:translateY(0.85px) scaleX(1.119) scaleY(0.950)">a</i>
<i class="c" style="left:388.17px;top:412px;transform:translateY(0.85px) scaleX(0.993) scaleY(0.950)">l</i>
<i class="c" style="left:393.68px;top:412px;transform:scaleX(1.103)">.</i>
<i style="left:399.20px;top:412px;transform:scaleX(1.103)">,</i>
<i class="c" style="left:411.34px;top:412px;transform:scaleX(0.993)">2</i>
<i class="c" style="left:421.27px;top:412px;transform:scaleX(0.993)">0</i>
<i class="c" style="left:431.20px;top:412px;transform:scaleX(0.993)">2</i>
<i class="c" style="left:441.13px;top:412px;transform:scaleX(0.993)">5</i>
<i style="left:451.06px;top:412px;transform:scaleX(1.160)">)</i>
<i style="left:587.40px;top:412px;transform:scaleX(1.215)">P</i>
<i style="left:600.91px;top:412px;transform:translateY(0.85px) scaleX(1.103) scaleY(0.950)">h</i>
<i style="left:611.95px;top:412px;transform:translateY(0.85px) scaleX(0.993) scaleY(0.950)">i</i>
<i style="left:617.46px;top:412px;transform:scaleX(0.993)">3</i>
<i style="left:627.39px;top:412px;transform:scaleX(1.103)">.</i>
<i style="left:632.91px;top:412px;transform:scaleX(0.993)">5</i>
<i style="left:642.84px;top:412px;transform:scaleX(0.994)">-</i>
<i style="left:649.46px;top:412px;transform:scaleX(1.031)">V</i>
<i style="left:665.71px;top:412px;transform:translateY(-3.73px) scaleX(1.300) scaleY(1.455)">/</i>
<i style="left:674.28px;top:412px;transform:scaleX(1.016)">L</i>
<i style="left:686.70px;top:412px;transform:scaleX(1.016)">L</i>
<i style="left:699.11px;top:412px;transform:translateY(0.85px) scaleX(1.119) scaleY(0.950)">a</i>
<i style="left:709.04px;top:412px;transform:scaleX(1.031)">V</i>
<i style="left:721.73px;top:412px;transform:scaleX(1.031)">A</i>
<i style="left:736.62px;top:412px;transform:scaleX(0.994)">-</i>
<i style="left:743.24px;top:412px;transform:scaleX(1.031)">N</i>
<i style="left:758.14px;top:412px;transform:translateY(0.85px) scaleX(0.994) scaleY(0.950)">e</i>
<i style="left:766.96px;top:412px;transform:scaleX(1.031)">X</i>
<i style="left:781.86px;top:412px;transform:scaleX(1.174)">T</i>
<i style="left:915.28px;top:412px;transform:scaleX(1.174)">T</i>
<i style="left:930.97px;top:412px;transform:translateY(-3.73px) scaleX(1.300) scaleY(1.455)">/</i>
<i style="left:939.55px;top:412px;transform:scaleX(1.077)">I</i>
<i style="left:240.94px;top:437px;transform:scaleX(1.016)">L</i>
<i style="left:253.35px;top:437px;transform:scaleX(1.016)">L</i>
<i style="left:265.77px;top:437px;transform:translateY(0.85px) scaleX(1.119) scaleY(0.950)">a</i>
<i style="left:275.70px;top:437px;transform:scaleX(1.031)">V</i>
<i style="left:290.59px;top:437px;transform:scaleX(1.106)">E</i>
<i style="left:310.73px;top:437px;transform:scaleX(1.160)">(</i>
<i class="c" style="left:318.45px;top:437px;transform:scaleX(1.016)">L</i>
<i class="c" style="left:330.86px;top:437px;transform:translateY(0.85px) scaleX(1.119) scaleY(0.950)">a</i>
<i class="c" style="left:340.79px;top:437px;transform:translateY(0.85px) scaleX(1.103) scaleY(0.950)">n</i>
<i class="c" style="left:358.45px;top:437px;transform:translateY(0.85px) scaleX(0.994) scaleY(0.950)">e</i>
<i class="c" style="left:367.52px;top:437px;transform:translateY(0.85px) scaleX(1.300) scaleY(0.950)">t</i>
<i class="c" style="left:381.62px;top:437px;transform:translateY(0.85px) scaleX(1.119) scaleY(0.950)">a</i>
<i class="c" style="left:391.55px;top:437px;transform:translateY(0.85px) scaleX(0.993) scaleY(0.950)">l</i>
<i class="c" style="left:397.06px;top:437px;transform:scaleX(1.103)">.</i>
<i style="left:402.58px;top:437px;transform:scaleX(1.103)">,</i>
<i class="c" style="left:414.72px;top:437px;transform:scaleX(0.993)">2</i>
<i class="c" style="left:424.65px;top:437px;transform:scaleX(0.993)">0</i>
<i class="c" style="left:434.58px;top:437px;transform:scaleX(0.993)">2</i>
<i class="c" style="left:444.51px;top:437px;transform:scaleX(0.993)">5</i>
<i style="left:454.44px;top:437px;transform:scaleX(1.160)">)</i>
<i style="left:561.69px;top:437px;transform:scaleX(1.016)">L</i>
<i style="left:574.10px;top:437px;transform:scaleX(1.016)">L</i>
<i style="left:586.51px;top:437px;transform:translateY(0.85px) scaleX(1.119) scaleY(0.950)">a</i>
<i style="left:596.44px;top:437px;transform:scaleX(1.031)">V</i>
<i style="left:609.13px;top:437px;transform:scaleX(1.031)">A</i>
<i style="left:624.03px;top:437px;transform:scaleX(0.994)">-</i>
<i style="left:630.65px;top:437px;transform:scaleX(1.069)">O</i>
<i style="left:646.09px;top:437px;transform:translateY(0.85px) scaleX(1.103) scaleY(0.950)">n</i>
<i style="left:657.13px;top:437px;transform:translateY(0.85px) scaleX(0.994) scaleY(0.950)">e</i>
<i style="left:665.95px;top:437px;transform:scaleX(1.031)">V</i>
<i style="left:680.85px;top:437px;transform:translateY(0.85px) scaleX(0.993) scaleY(0.950)">i</i>
<i style="left:686.37px;top:437px;transform:translateY(0.85px) scaleX(1.006) scaleY(0.950)">s</i>
<i style="left:694.20px;top:437px;transform:translateY(0.85px) scaleX(0.993) scaleY(0.950)">i</i>
<i style="left:699.72px;top:437px;transform:translateY(0.85px) scaleX(0.993) scaleY(0.950)">o</i>
<i style="left:709.65px;top:437px;transform:translateY(0.85px) scaleX(1.103) scaleY(0.950)">n</i>
<i style="left:722.03px;top:437px;transform:translateY(-3.73px) scaleX(1.300) scaleY(1.455)">/</i>
<i style="left:730.61px;top:437px;transform:scaleX(1.031)">A</i>
<i style="left:745.50px;top:437px;transform:translateY(0.85px) scaleX(1.048) scaleY(0.950)">q</i>
<i style="left:755.99px;top:437px;transform:translateY(0.85px) scaleX(1.103) scaleY(0.950)">u</i>
<i style="left:767.02px;top:437px;transform:translateY(0.85px) scaleX(0.993) scaleY(0.950)">i</i>
<i style="left:772.54px;top:437px;transform:translateY(0.85px) scaleX(0.993) scaleY(0.950)">l</i>
<i style="left:778.05px;top:437px;transform:translateY(0.85px) scaleX(1.119) scaleY(0.950)">a</i>
<i style="left:787.98px;top:437px;transform:scaleX(0.994)">-</i>
<i style="left:794.60px;top:437px;transform:scaleX(1.031)">V</i>
<i style="left:809.50px;top:437px;transform:scaleX(1.016)">L</i>
<i style="left:915.28px;top:437px;transform:scaleX(1.174)">T</i>
<i style="left:930.97px;top:437px;transform:translateY(-3.73px) scaleX(1.300) scaleY(1.455)">/</i>
<i style="left:939.55px;top:437px;transform:scaleX(1.077)">I</i>
<i style="left:212.61px;top:461px;transform:scaleX(1.055)">B</i>
<i style="left:226.68px;top:461px;transform:scaleX(0.993)">3</i>
<i style="left:243.23px;top:461px;transform:scaleX(1.160)">(</i>
<i class="c" style="left:250.95px;top:461px;transform:scaleX(1.174)">T</i>
<i class="c" style="left:265.30px;top:461px;transform:translateY(0.85px) scaleX(1.103) scaleY(0.950)">h</i>
<i class="c" style="left:276.33px;top:461px;transform:translateY(0.85px) scaleX(0.993) scaleY(0.950)">i</i>
<i class="c" style="left:281.85px;top:461px;transform:translateY(0.85px) scaleX(1.168) scaleY(0.950)">r</i>
<i class="c" style="left:289.63px;top:461px;transform:translateY(0.85px) scaleX(1.103) scaleY(0.950)">u</i>
<i class="c" style="left:300.66px;top:461px;transform:translateY(0.85px) scaleX(1.048) scaleY(0.950)">k</i>
<i class="c" style="left:310.59px;top:461px;transform:translateY(0.85px) scaleX(0.993) scaleY(0.950)">o</i>
<i class="c" style="left:319.97px;top:461px;transform:translateY(0.85px) scaleX(1.048) scaleY(0.950)">v</i>
<i class="c" style="left:329.35px;top:461px;transform:translateY(0.85px) scaleX(1.119) scaleY(0.950)">a</i>
<i class="c" style="left:339.28px;top:461px;transform:translateY(0.85px) scaleX(0.993) scaleY(0.950)">l</i>
<i class="c" style="left:344.79px;top:461px;transform:translateY(0.85px) scaleX(0.993) scaleY(0.950)">l</i>
<i class="c" style="left:350.31px;top:461px;transform:translateY(0.85px) scaleX(1.103) scaleY(0.950)">u</i>
<i class="c" style="left:361.34px;top:461px;transform:translateY(0.85px) scaleX(1.168) scaleY(0.950)">r</i>
<i class="c" style="left:369.12px;top:461px;transform:translateY(0.85px) scaleX(1.103) scaleY(0.950)">u</i>
<i class="c" style="left:386.77px;top:461px;transform:translateY(0.85px) scaleX(0.994) scaleY(0.950)">e</i>
<i class="c" style="left:395.85px;top:461px;transform:translateY(0.85px) scaleX(1.300) scaleY(0.950)">t</i>
<i class="c" style="left:409.94px;top:461px;transform:translateY(0.85px) scaleX(1.119) scaleY(0.950)">a</i>
<i class="c" style="left:419.87px;top:461px;transform:translateY(0.85px) scaleX(0.993) scaleY(0.950)">l</i>
<i class="c" style="left:425.39px;top:461px;transform:scaleX(1.103)">.</i>
<i style="left:430.91px;top:461px;transform:scaleX(1.103)">,</i>
<i class="c" style="left:443.04px;top:461px;transform:scaleX(0.993)">2</i>
<i class="c" style="left:452.97px;top:461px;transform:scaleX(0.993)">0</i>
<i class="c" style="left:462.90px;top:461px;transform:scaleX(0.993)">2</i>
<i class="c" style="left:472.83px;top:461px;transform:scaleX(0.993)">5</i>
<i style="left:482.76px;top:461px;transform:scaleX(1.160)">)</i>
<i style="left:645.32px;top:461px;transform:scaleX(1.069)">Q</i>
<i style="left:660.77px;top:461px;transform:translateY(0.85px) scaleX(0.993) scaleY(0.950)">w</i>
<i style="left:674.56px;top:461px;transform:translateY(0.85px) scaleX(0.994) scaleY(0.950)">e</i>
<i style="left:683.39px;top:461px;transform:translateY(0.85px) scaleX(1.103) scaleY(0.950)">n</i>
<i style="left:694.42px;top:461px;transform:scaleX(0.993)">2</i>
<i style="left:704.35px;top:461px;transform:scaleX(0.994)">-</i>
<i style="left:710.97px;top:461px;transform:scaleX(1.031)">V</i>
<i style="left:725.87px;top:461px;transform:scaleX(1.016)">L</i>
<i style="left:915.28px;top:461px;transform:scaleX(1.174)">T</i>
<i style="left:930.97px;top:461px;transform:translateY(-3.73px) scaleX(1.300) scaleY(1.455)">/</i>
<i style="left:939.55px;top:461px;transform:scaleX(1.077)">I</i>
<i style="left:238.14px;top:486px;transform:scaleX(1.031)">U</i>
<i class="sc" style="left:253.04px;top:492px;transform:scaleX(1.283)">N</i>
<i class="sc" style="left:266.01px;top:492px;transform:scaleX(1.283)">I</i>
<i class="sc" style="left:271.99px;top:492px;transform:scaleX(1.283)">T</i>
<i class="sc" style="left:282.97px;top:492px;transform:scaleX(1.283)">E</i>
<i style="left:300.56px;top:486px;transform:scaleX(1.160)">(</i>
<i class="c" style="left:308.28px;top:486px;transform:scaleX(1.069)">K</i>
<i class="c" style="left:323.73px;top:486px;transform:translateY(0.85px) scaleX(0.993) scaleY(0.950)">o</i>
<i class="c" style="left:333.66px;top:486px;transform:translateY(0.85px) scaleX(1.103) scaleY(0.950)">n</i>
<i class="c" style="left:344.69px;top:486px;transform:translateY(0.85px) scaleX(0.993) scaleY(0.950)">g</i>
<i class="c" style="left:361.24px;top:486px;transform:translateY(0.85px) scaleX(0.994) scaleY(0.950)">e</i>
<i class="c" style="left:370.32px;top:486px;transform:translateY(0.85px) scaleX(1.300) scaleY(0.950)">t</i>
<i class="c" style="left:384.41px;top:486px;transform:translateY(0.85px) scaleX(1.119) scaleY(0.950)">a</i>
<i class="c" style="left:394.35px;top:486px;transform:translateY(0.85px) scaleX(0.993) scaleY(0.950)">l</i>
<i class="c" style="left:399.86px;top:486px;transform:scaleX(1.103)">.</i>
<i style="left:405.38px;top:486px;transform:scaleX(1.103)">,</i>
<i class="c" style="left:417.52px;top:486px;transform:scaleX(0.993)">2</i>
<i class="c" style="left:427.45px;top:486px;transform:scaleX(0.993)">0</i>
<i class="c" style="left:437.38px;top:486px;transform:scaleX(0.993)">2</i>
<i class="c" style="left:447.31px;top:486px;transform:scaleX(0.993)">5</i>
<i style="left:457.24px;top:486px;transform:scaleX(1.160)">)</i>
<i style="left:645.32px;top:486px;transform:scaleX(1.069)">Q</i>
<i style="left:660.77px;top:486px;transform:translateY(0.85px) scaleX(0.993) scaleY(0.950)">w</i>
<i style="left:674.56px;top:486px;transform:translateY(0.85px) scaleX(0.994) scaleY(0.950)">e</i>
<i style="left:683.39px;top:486px;transform:translateY(0.85px) scaleX(1.103) scaleY(0.950)">n</i>
<i style="left:694.42px;top:486px;transform:scaleX(0.993)">2</i>
<i style="left:704.35px;top:486px;transform:scaleX(0.994)">-</i>
<i style="left:710.97px;top:486px;transform:scaleX(1.031)">V</i>
<i style="left:725.87px;top:486px;transform:scaleX(1.016)">L</i>
<i style="left:902.86px;top:486px;transform:scaleX(1.174)">T</i>
<i style="left:918.56px;top:486px;transform:translateY(-3.73px) scaleX(1.300) scaleY(1.455)">/</i>
<i style="left:927.14px;top:486px;transform:scaleX(1.077)">I</i>
<i style="left:935.66px;top:486px;transform:translateY(-3.73px) scaleX(1.300) scaleY(1.455)">/</i>
<i style="left:944.24px;top:486px;transform:scaleX(1.031)">V</i>
<i style="left:221.17px;top:511px;transform:scaleX(1.300)">J</i>
<i style="left:231.33px;top:511px;transform:translateY(0.85px) scaleX(0.993) scaleY(0.950)">i</i>
<i style="left:236.84px;top:511px;transform:translateY(0.85px) scaleX(1.103) scaleY(0.950)">n</i>
<i style="left:247.88px;top:511px;transform:translateY(0.85px) scaleX(1.119) scaleY(0.950)">a</i>
<i style="left:257.81px;top:511px;transform:scaleX(0.994)">-</i>
<i style="left:264.43px;top:511px;transform:translateY(0.85px) scaleX(1.048) scaleY(0.950)">v</i>
<i style="left:274.91px;top:511px;transform:scaleX(0.993)">4</i>
<i style="left:291.46px;top:511px;transform:scaleX(1.160)">(</i>
<i class="c" style="left:299.18px;top:511px;transform:scaleX(1.079)">G</i>
<i class="c" style="left:314.77px;top:511px;transform:translateY(0.85px) scaleX(1.103) scaleY(0.950)">ü</i>
<i class="c" style="left:325.80px;top:511px;transform:translateY(0.85px) scaleX(1.103) scaleY(0.950)">n</i>
<i class="c" style="left:336.53px;top:511px;transform:translateY(0.85px) scaleX(1.300) scaleY(0.950)">t</i>
<i class="c" style="left:344.01px;top:511px;transform:translateY(0.85px) scaleX(1.103) scaleY(0.950)">h</i>
<i class="c" style="left:355.04px;top:511px;transform:translateY(0.85px) scaleX(0.994) scaleY(0.950)">e</i>
<i class="c" style="left:363.87px;top:511px;transform:translateY(0.85px) scaleX(1.168) scaleY(0.950)">r</i>
<i class="c" style="left:378.26px;top:511px;transform:translateY(0.85px) scaleX(0.994) scaleY(0.950)">e</i>
<i class="c" style="left:387.34px;top:511px;transform:translateY(0.85px) scaleX(1.300) scaleY(0.950)">t</i>
<i class="c" style="left:401.43px;top:511px;transform:translateY(0.85px) scaleX(1.119) scaleY(0.950)">a</i>
<i class="c" style="left:411.36px;top:511px;transform:translateY(0.85px) scaleX(0.993) scaleY(0.950)">l</i>
<i class="c" style="left:416.88px;top:511px;transform:scaleX(1.103)">.</i>
<i style="left:422.40px;top:511px;transform:scaleX(1.103)">,</i>
<i class="c" style="left:434.53px;top:511px;transform:scaleX(0.993)">2</i>
<i class="c" style="left:444.46px;top:511px;transform:scaleX(0.993)">0</i>
<i class="c" style="left:454.39px;top:511px;transform:scaleX(0.993)">2</i>
<i class="c" style="left:464.32px;top:511px;transform:scaleX(0.993)">5</i>
<i style="left:474.25px;top:511px;transform:scaleX(1.160)">)</i>
<i style="left:637.60px;top:511px;transform:scaleX(1.069)">Q</i>
<i style="left:653.05px;top:511px;transform:translateY(0.85px) scaleX(0.993) scaleY(0.950)">w</i>
<i style="left:666.84px;top:511px;transform:translateY(0.85px) scaleX(0.994) scaleY(0.950)">e</i>
<i style="left:675.66px;top:511px;transform:translateY(0.85px) scaleX(1.103) scaleY(0.950)">n</i>
<i style="left:686.70px;top:511px;transform:scaleX(0.993)">2</i>
<i style="left:696.63px;top:511px;transform:scaleX(1.103)">.</i>
<i style="left:702.14px;top:511px;transform:scaleX(0.993)">5</i>
<i style="left:712.07px;top:511px;transform:scaleX(0.994)">-</i>
<i style="left:718.69px;top:511px;transform:scaleX(1.031)">V</i>
<i style="left:733.59px;top:511px;transform:scaleX(1.016)">L</i>
<i style="left:902.86px;top:511px;transform:scaleX(1.174)">T</i>
<i style="left:918.56px;top:511px;transform:translateY(-3.73px) scaleX(1.300) scaleY(1.455)">/</i>
<i style="left:927.14px;top:511px;transform:scaleX(1.077)">I</i>
<i style="left:935.66px;top:511px;transform:translateY(-3.73px) scaleX(1.300) scaleY(1.455)">/</i>
<i style="left:944.24px;top:511px;transform:scaleX(1.031)">V</i>
<i style="left:60.27px;top:151px;transform:scaleX(1.077)">I</i>
<i style="left:67.44px;top:151px;transform:translateY(0.85px) scaleX(1.103) scaleY(0.950)">n</i>
<i style="left:78.47px;top:151px;transform:translateY(0.85px) scaleX(1.103) scaleY(0.950)">d</i>
<i style="left:89.50px;top:151px;transform:translateY(0.85px) scaleX(0.993) scaleY(0.950)">i</i>
<i style="left:95.02px;top:151px;transform:translateY(0.85px) scaleX(1.048) scaleY(0.950)">v</i>
<i style="left:105.50px;top:151px;transform:translateY(0.85px) scaleX(0.993) scaleY(0.950)">i</i>
<i style="left:111.02px;top:151px;transform:translateY(0.85px) scaleX(1.103) scaleY(0.950)">d</i>
<i style="left:122.05px;top:151px;transform:translateY(0.85px) scaleX(1.103) scaleY(0.950)">u</i>
<i style="left:133.09px;top:151px;transform:translateY(0.85px) scaleX(1.119) scaleY(0.950)">a</i>
<i style="left:143.02px;top:151px;transform:translateY(0.85px) scaleX(0.993) scaleY(0.950)">l</i>
<i style="left:68.65px;top:171px;transform:scaleX(1.106)">E</i>
<i style="left:82.17px;top:171px;transform:translateY(0.85px) scaleX(1.103) scaleY(0.950)">n</i>
<i style="left:93.20px;top:171px;transform:translateY(0.85px) scaleX(0.994) scaleY(0.950)">c</i>
<i style="left:102.03px;top:171px;transform:translateY(0.85px) scaleX(0.993) scaleY(0.950)">o</i>
<i style="left:112.51px;top:171px;transform:translateY(0.85px) scaleX(1.103) scaleY(0.950)">d</i>
<i style="left:123.54px;top:171px;transform:translateY(0.85px) scaleX(0.994) scaleY(0.950)">e</i>
<i style="left:132.37px;top:171px;transform:translateY(0.85px) scaleX(1.168) scaleY(0.950)">r</i>
<i style="left:64.73px;top:375px;transform:scaleX(1.031)">U</i>
<i style="left:79.63px;top:375px;transform:translateY(0.85px) scaleX(1.103) scaleY(0.950)">n</i>
<i style="left:90.66px;top:375px;transform:translateY(0.85px) scaleX(0.993) scaleY(0.950)">i</i>
<i style="left:96.18px;top:375px;transform:translateY(0.85px) scaleX(0.992) scaleY(0.950)">fi</i>
<i style="left:107.21px;top:375px;transform:translateY(0.85px) scaleX(0.994) scaleY(0.950)">e</i>
<i style="left:116.04px;top:375px;transform:translateY(0.85px) scaleX(1.103) scaleY(0.950)">d</i>
<i style="left:60.15px;top:395px;transform:scaleX(1.106)">E</i>
<i style="left:73.67px;top:395px;transform:translateY(0.85px) scaleX(1.103) scaleY(0.950)">n</i>
<i style="left:84.70px;top:395px;transform:translateY(0.85px) scaleX(0.994) scaleY(0.950)">c</i>
<i style="left:93.53px;top:395px;transform:translateY(0.85px) scaleX(0.993) scaleY(0.950)">o</i>
<i style="left:104.01px;top:395px;transform:translateY(0.85px) scaleX(1.103) scaleY(0.950)">d</i>
<i style="left:115.04px;top:395px;transform:translateY(0.85px) scaleX(0.994) scaleY(0.950)">e</i>
<i style="left:123.87px;top:395px;transform:translateY(0.85px) scaleX(1.168) scaleY(0.950)">r</i>
<i class="k" style="left:58.10px;top:563px;transform:scaleX(1.132)">T</i>
<i class="k" style="left:71.87px;top:563px;transform:translateY(0.90px) scaleX(1.079) scaleY(0.950)">a</i>
<i class="k" style="left:82.64px;top:563px;transform:translateY(0.90px) scaleX(1.064) scaleY(0.950)">b</i>
<i class="k" style="left:94.62px;top:563px;transform:translateY(0.90px) scaleX(0.958) scaleY(0.950)">l</i>
<i class="k" style="left:100.60px;top:563px;transform:translateY(0.90px) scaleX(0.959) scaleY(0.950)">e</i>
<i class="k" style="left:117.36px;top:563px;transform:scaleX(0.958)">6</i>
<i class="k" style="left:128.14px;top:563px;transform:scaleX(0.958)">:</i>
<i class="k" style="left:143.70px;top:563px;transform:scaleX(0.987)">M</i>
<i class="k" style="left:163.45px;top:563px;transform:translateY(0.90px) scaleX(1.064) scaleY(0.950)">u</i>
<i class="k" style="left:175.43px;top:563px;transform:translateY(0.90px) scaleX(0.958) scaleY(0.950)">l</i>
<i class="k" style="left:181.54px;top:563px;transform:translateY(0.90px) scaleX(1.300) scaleY(0.950)">t</i>
<i class="k" style="left:189.79px;top:563px;transform:translateY(0.90px) scaleX(0.958) scaleY(0.950)">i</i>
<i class="k" style="left:195.78px;top:563px;transform:translateY(0.90px) scaleX(1.026) scaleY(0.950)">m</i>
<i class="k" style="left:213.74px;top:563px;transform:translateY(0.90px) scaleX(0.958) scaleY(0.950)">o</i>
<i class="k" style="left:225.11px;top:563px;transform:translateY(0.90px) scaleX(1.064) scaleY(0.950)">d</i>
<i class="k" style="left:237.08px;top:563px;transform:translateY(0.90px) scaleX(1.079) scaleY(0.950)">a</i>
<i class="k" style="left:247.86px;top:563px;transform:translateY(0.90px) scaleX(0.958) scaleY(0.950)">l</i>
<i class="k" style="left:261.03px;top:563px;transform:scaleX(1.067)">E</i>
<i class="k" style="left:275.69px;top:563px;transform:translateY(0.90px) scaleX(1.026) scaleY(0.950)">m</i>
<i class="k" style="left:293.05px;top:563px;transform:translateY(0.90px) scaleX(1.064) scaleY(0.950)">b</i>
<i class="k" style="left:305.62px;top:563px;transform:translateY(0.90px) scaleX(0.959) scaleY(0.950)">e</i>
<i class="k" style="left:315.20px;top:563px;transform:translateY(0.90px) scaleX(1.064) scaleY(0.950)">d</i>
<i class="k" style="left:327.17px;top:563px;transform:translateY(0.90px) scaleX(1.064) scaleY(0.950)">d</i>
<i class="k" style="left:339.15px;top:563px;transform:translateY(0.90px) scaleX(0.958) scaleY(0.950)">i</i>
<i class="k" style="left:345.13px;top:563px;transform:translateY(0.90px) scaleX(1.064) scaleY(0.950)">n</i>
<i class="k" style="left:357.10px;top:563px;transform:translateY(0.90px) scaleX(0.958) scaleY(0.950)">g</i>
<i class="k" style="left:367.88px;top:563px;transform:scaleX(1.064)">,</i>
<i class="k" style="left:381.05px;top:563px;transform:translateY(0.90px) scaleX(0.958) scaleY(0.950)">w</i>
<i class="k" style="left:396.61px;top:563px;transform:translateY(0.90px) scaleX(1.064) scaleY(0.950)">h</i>
<i class="k" style="left:408.59px;top:563px;transform:translateY(0.90px) scaleX(0.959) scaleY(0.950)">e</i>
<i class="k" style="left:418.16px;top:563px;transform:translateY(0.90px) scaleX(1.126) scaleY(0.950)">r</i>
<i class="k" style="left:426.60px;top:563px;transform:translateY(0.90px) scaleX(0.959) scaleY(0.950)">e</i>
<i class="k" style="left:443.36px;top:563px;transform:scaleX(1.132)">T</i>
<i class="k" style="left:458.93px;top:563px;transform:scaleX(1.064)">,</i>
<i class="k" style="left:472.10px;top:563px;transform:scaleX(1.039)">I</i>
<i class="k" style="left:479.88px;top:563px;transform:scaleX(1.064)">,</i>
<i class="k" style="left:493.05px;top:563px;transform:translateY(0.90px) scaleX(1.079) scaleY(0.950)">a</i>
<i class="k" style="left:503.82px;top:563px;transform:translateY(0.90px) scaleX(1.064) scaleY(0.950)">n</i>
<i class="k" style="left:515.80px;top:563px;transform:translateY(0.90px) scaleX(1.064) scaleY(0.950)">d</i>
<i class="k" style="left:534.95px;top:563px;transform:scaleX(0.995)">V</i>
<i class="k" style="left:558.30px;top:563px;transform:translateY(0.90px) scaleX(0.958) scaleY(0.950)">i</i>
<i class="k" style="left:564.28px;top:563px;transform:translateY(0.90px) scaleX(1.064) scaleY(0.950)">n</i>
<i class="k" style="left:576.26px;top:563px;transform:translateY(0.90px) scaleX(1.064) scaleY(0.950)">d</i>
<i class="k" style="left:588.23px;top:563px;transform:translateY(0.90px) scaleX(0.958) scaleY(0.950)">i</i>
<i class="k" style="left:594.21px;top:563px;transform:translateY(0.90px) scaleX(0.959) scaleY(0.950)">c</i>
<i class="k" style="left:603.79px;top:563px;transform:translateY(0.90px) scaleX(1.079) scaleY(0.950)">a</i>
<i class="k" style="left:614.69px;top:563px;transform:translateY(0.90px) scaleX(1.300) scaleY(0.950)">t</i>
<i class="k" style="left:622.95px;top:563px;transform:translateY(0.90px) scaleX(0.959) scaleY(0.950)">e</i>
<i class="k" style="left:639.84px;top:563px;transform:translateY(0.90px) scaleX(1.300) scaleY(0.950)">t</i>
<i class="k" style="left:648.09px;top:563px;transform:translateY(0.90px) scaleX(0.959) scaleY(0.950)">e</i>
<i class="k" style="left:657.67px;top:563px;transform:translateY(0.90px) scaleX(1.011) scaleY(0.950)">x</i>
<i class="k" style="left:669.17px;top:563px;transform:translateY(0.90px) scaleX(1.300) scaleY(0.950)">t</i>
<i class="k" style="left:677.42px;top:563px;transform:scaleX(1.064)">,</i>
<i class="k" style="left:690.59px;top:563px;transform:translateY(0.90px) scaleX(0.958) scaleY(0.950)">i</i>
<i class="k" style="left:696.58px;top:563px;transform:translateY(0.90px) scaleX(1.026) scaleY(0.950)">m</i>
<i class="k" style="left:714.54px;top:563px;transform:translateY(0.90px) scaleX(1.079) scaleY(0.950)">a</i>
<i class="k" style="left:725.31px;top:563px;transform:translateY(0.90px) scaleX(0.958) scaleY(0.950)">g</i>
<i class="k" style="left:736.09px;top:563px;transform:translateY(0.90px) scaleX(0.959) scaleY(0.950)">e</i>
<i class="k" style="left:745.66px;top:563px;transform:scaleX(1.064)">,</i>
<i class="k" style="left:758.83px;top:563px;transform:translateY(0.90px) scaleX(1.079) scaleY(0.950)">a</i>
<i class="k" style="left:769.61px;top:563px;transform:translateY(0.90px) scaleX(1.064) scaleY(0.950)">n</i>
<i class="k" style="left:781.58px;top:563px;transform:translateY(0.90px) scaleX(1.064) scaleY(0.950)">d</i>
<i class="k" style="left:800.74px;top:563px;transform:translateY(0.90px) scaleX(1.011) scaleY(0.950)">v</i>
<i class="k" style="left:812.11px;top:563px;transform:translateY(0.90px) scaleX(0.958) scaleY(0.950)">i</i>
<i class="k" style="left:818.10px;top:563px;transform:translateY(0.90px) scaleX(1.064) scaleY(0.950)">d</i>
<i class="k" style="left:830.07px;top:563px;transform:translateY(0.90px) scaleX(0.959) scaleY(0.950)">e</i>
<i class="k" style="left:839.65px;top:563px;transform:translateY(0.90px) scaleX(0.958) scaleY(0.950)">o</i>
<i class="k" style="left:850.42px;top:563px;transform:scaleX(1.064)">,</i>
<i class="k" style="left:863.59px;top:563px;transform:translateY(0.90px) scaleX(1.126) scaleY(0.950)">r</i>
<i class="k" style="left:872.03px;top:563px;transform:translateY(0.90px) scaleX(0.959) scaleY(0.950)">e</i>
<i class="k" style="left:881.61px;top:563px;transform:translateY(0.90px) scaleX(0.971) scaleY(0.950)">s</i>
<i class="k" style="left:890.11px;top:563px;transform:translateY(0.90px) scaleX(1.064) scaleY(0.950)">p</i>
<i class="k" style="left:902.68px;top:563px;transform:translateY(0.90px) scaleX(0.959) scaleY(0.950)">e</i>
<i class="k" style="left:912.26px;top:563px;transform:translateY(0.90px) scaleX(0.959) scaleY(0.950)">c</i>
<i class="k" style="left:921.96px;top:563px;transform:translateY(0.90px) scaleX(1.300) scaleY(0.950)">t</i>
<i class="k" style="left:930.22px;top:563px;transform:translateY(0.90px) scaleX(0.958) scaleY(0.950)">i</i>
<i class="k" style="left:936.20px;top:563px;transform:translateY(0.90px) scaleX(1.011) scaleY(0.950)">v</i>
<i class="k" style="left:946.98px;top:563px;transform:translateY(0.90px) scaleX(0.959) scaleY(0.950)">e</i>
<i class="k" style="left:956.56px;top:563px;transform:translateY(0.90px) scaleX(0.958) scaleY(0.950)">l</i>
<i class="k" style="left:962.54px;top:563px;transform:translateY(0.90px) scaleX(1.011) scaleY(0.950)">y</i>
<i class="k" style="left:972.12px;top:563px;transform:scaleX(1.064)">.</i>
</body></html>
